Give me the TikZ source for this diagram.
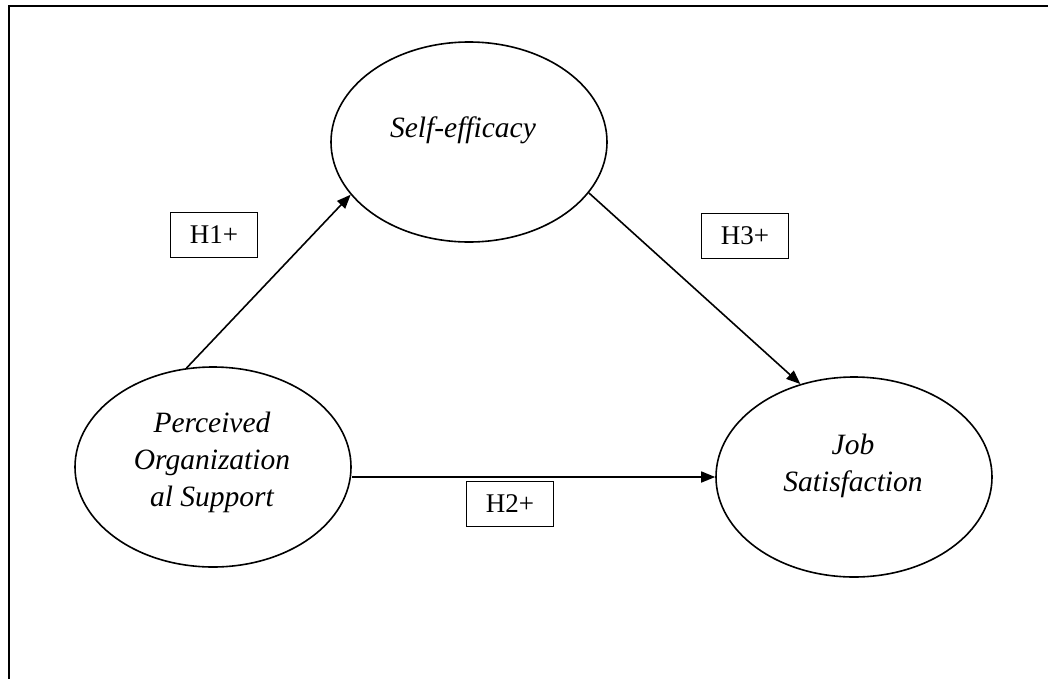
\documentclass[tikz,border=0pt]{standalone}
\usepackage{fontspec}
\setmainfont{Liberation Serif}
\usetikzlibrary{shapes.geometric,arrows.meta}
\begin{document}
\begin{tikzpicture}[x=1pt,y=-1pt,
  construct/.style={ellipse,draw,line width=1.6pt,minimum width=276pt,minimum height=200pt,inner sep=0pt},
  ctext/.style={align=center,font=\fontsize{29.5}{37}\selectfont\itshape,inner sep=0pt},
  hyp/.style={draw,line width=1.5pt,minimum width=87pt,minimum height=45pt,inner sep=0pt,font=\fontsize{27}{30}\selectfont},
  arr/.style={line width=1.6pt,-{Triangle[length=14pt,width=11pt]}}]
\useasboundingbox (0,0) rectangle (1048,678);
\fill[white] (0,0) rectangle (1048,678);
\draw[line width=2pt] (9,680) -- (9,6) -- (1050,6);
\node[construct] (se) at (469,142) {};
\node[construct] (pos) at (213,467) {};
\node[construct] (job) at (854,477) {};
\node[ctext] (setext) at (463,130) {Self-efficacy};
\node[ctext] (postext) at (212,462) {Perceived\\Organization\\al Support};
\node[ctext] (jobtext) at (853,466) {Job\\Satisfaction};
\node[hyp] (h1) at (214,235) {H1+};
\node[hyp] (h3) at (745,236) {H3+};
\node[hyp] (h2) at (510,504) {H2+};
\draw[arr] (pos.105) -- (se.204);
\draw[arr] (se.337) -- (job.120);
\draw[arr] (pos.east |- job.west) -- (job.west);
\end{tikzpicture}
\end{document}
